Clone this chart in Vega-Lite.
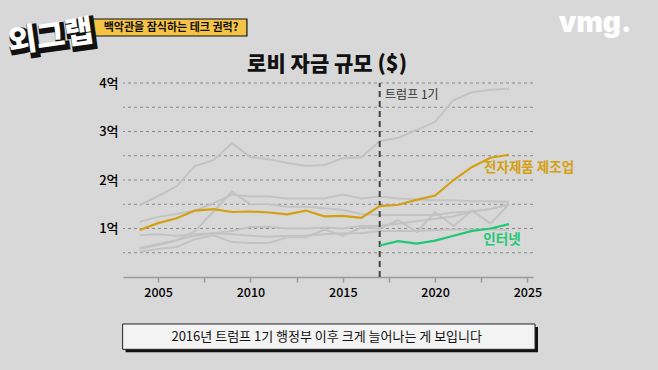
{
  "$schema": "https://vega.github.io/schema/vega-lite/v6.json",
  "width": 410,
  "height": 194,
  "autosize": {"type": "none"},
  "padding": {"left": 123, "top": 83, "right": 125, "bottom": 93},
  "background": "#d8d8d8",
  "config": {"view": {"stroke": null}, "font": "Noto Sans CJK KR"},
  "datasets": {
    "grid": [{"value": 0.5}, {"value": 1}, {"value": 1.5}, {"value": 2}, {"value": 2.5}, {"value": 3}, {"value": 3.5}, {"value": 4}],
    "gray": [
      {"s":"g1","year":2004,"value":1.48},{"s":"g1","year":2005,"value":1.67},{"s":"g1","year":2006,"value":1.87},{"s":"g1","year":2007,"value":2.29},{"s":"g1","year":2008,"value":2.41},{"s":"g1","year":2009,"value":2.76},{"s":"g1","year":2010,"value":2.47},{"s":"g1","year":2011,"value":2.43},{"s":"g1","year":2012,"value":2.35},{"s":"g1","year":2013,"value":2.29},{"s":"g1","year":2014,"value":2.31},{"s":"g1","year":2015,"value":2.45},{"s":"g1","year":2016,"value":2.47},{"s":"g1","year":2017,"value":2.8},{"s":"g1","year":2018,"value":2.87},{"s":"g1","year":2019,"value":3.03},{"s":"g1","year":2020,"value":3.2},{"s":"g1","year":2021,"value":3.65},{"s":"g1","year":2022,"value":3.81},{"s":"g1","year":2023,"value":3.86},{"s":"g1","year":2024,"value":3.88},
      {"s":"g2","year":2004,"value":1.14},{"s":"g2","year":2005,"value":1.24},{"s":"g2","year":2006,"value":1.3},{"s":"g2","year":2007,"value":1.37},{"s":"g2","year":2008,"value":1.52},{"s":"g2","year":2009,"value":1.7},{"s":"g2","year":2010,"value":1.66},{"s":"g2","year":2011,"value":1.66},{"s":"g2","year":2012,"value":1.62},{"s":"g2","year":2013,"value":1.62},{"s":"g2","year":2014,"value":1.62},{"s":"g2","year":2015,"value":1.7},{"s":"g2","year":2016,"value":1.62},{"s":"g2","year":2017,"value":1.66},{"s":"g2","year":2018,"value":1.62},{"s":"g2","year":2019,"value":1.6},{"s":"g2","year":2020,"value":1.58},{"s":"g2","year":2021,"value":1.58},{"s":"g2","year":2022,"value":1.56},{"s":"g2","year":2023,"value":1.56},{"s":"g2","year":2024,"value":1.55},
      {"s":"g3","year":2004,"value":0.58},{"s":"g3","year":2005,"value":0.66},{"s":"g3","year":2006,"value":0.75},{"s":"g3","year":2007,"value":0.95},{"s":"g3","year":2008,"value":1.35},{"s":"g3","year":2009,"value":1.76},{"s":"g3","year":2010,"value":1.5},{"s":"g3","year":2011,"value":1.5},{"s":"g3","year":2012,"value":1.45},{"s":"g3","year":2013,"value":1.45},{"s":"g3","year":2014,"value":1.42},{"s":"g3","year":2015,"value":1.38},{"s":"g3","year":2016,"value":1.3},{"s":"g3","year":2017,"value":1.28},{"s":"g3","year":2018,"value":1.28},{"s":"g3","year":2019,"value":1.28},{"s":"g3","year":2020,"value":1.28},{"s":"g3","year":2021,"value":1.33},{"s":"g3","year":2022,"value":1.35},{"s":"g3","year":2023,"value":1.4},{"s":"g3","year":2024,"value":1.5},
      {"s":"g4","year":2004,"value":0.86},{"s":"g4","year":2005,"value":0.88},{"s":"g4","year":2006,"value":0.85},{"s":"g4","year":2007,"value":0.88},{"s":"g4","year":2008,"value":0.9},{"s":"g4","year":2009,"value":0.88},{"s":"g4","year":2010,"value":0.85},{"s":"g4","year":2011,"value":0.83},{"s":"g4","year":2012,"value":0.85},{"s":"g4","year":2013,"value":0.85},{"s":"g4","year":2014,"value":0.88},{"s":"g4","year":2015,"value":0.9},{"s":"g4","year":2016,"value":0.9},{"s":"g4","year":2017,"value":0.95},{"s":"g4","year":2018,"value":0.95},{"s":"g4","year":2019,"value":0.95},{"s":"g4","year":2020,"value":0.97},{"s":"g4","year":2021,"value":0.98},{"s":"g4","year":2022,"value":0.98},{"s":"g4","year":2023,"value":0.98},{"s":"g4","year":2024,"value":0.97},
      {"s":"g5","year":2004,"value":0.6},{"s":"g5","year":2005,"value":0.68},{"s":"g5","year":2006,"value":0.76},{"s":"g5","year":2007,"value":0.85},{"s":"g5","year":2008,"value":0.9},{"s":"g5","year":2009,"value":0.95},{"s":"g5","year":2010,"value":1.03},{"s":"g5","year":2011,"value":1.03},{"s":"g5","year":2012,"value":1.0},{"s":"g5","year":2013,"value":1.0},{"s":"g5","year":2014,"value":1.02},{"s":"g5","year":2015,"value":1.0},{"s":"g5","year":2016,"value":1.05},{"s":"g5","year":2017,"value":1.05},{"s":"g5","year":2018,"value":1.1},{"s":"g5","year":2019,"value":1.15},{"s":"g5","year":2020,"value":1.2},{"s":"g5","year":2021,"value":1.25},{"s":"g5","year":2022,"value":1.35},{"s":"g5","year":2023,"value":1.4},{"s":"g5","year":2024,"value":1.5},
      {"s":"g6","year":2004,"value":0.52},{"s":"g6","year":2005,"value":0.58},{"s":"g6","year":2006,"value":0.62},{"s":"g6","year":2007,"value":0.78},{"s":"g6","year":2008,"value":0.86},{"s":"g6","year":2009,"value":0.72},{"s":"g6","year":2010,"value":0.7},{"s":"g6","year":2011,"value":0.7},{"s":"g6","year":2012,"value":0.82},{"s":"g6","year":2013,"value":0.82},{"s":"g6","year":2014,"value":0.98},{"s":"g6","year":2015,"value":0.85},{"s":"g6","year":2016,"value":1.02},{"s":"g6","year":2017,"value":1.0},{"s":"g6","year":2018,"value":1.17},{"s":"g6","year":2019,"value":0.93},{"s":"g6","year":2020,"value":1.34},{"s":"g6","year":2021,"value":1.05},{"s":"g6","year":2022,"value":1.37},{"s":"g6","year":2023,"value":1.1},{"s":"g6","year":2024,"value":1.5}
    ],
    "gold": [
      {"year":2004,"value":0.97},{"year":2005,"value":1.11},{"year":2006,"value":1.21},{"year":2007,"value":1.37},{"year":2008,"value":1.4},{"year":2009,"value":1.34},{"year":2010,"value":1.35},{"year":2011,"value":1.33},{"year":2012,"value":1.29},{"year":2013,"value":1.37},{"year":2014,"value":1.25},{"year":2015,"value":1.26},{"year":2016,"value":1.22},{"year":2017,"value":1.46},{"year":2018,"value":1.49},{"year":2019,"value":1.59},{"year":2020,"value":1.68},{"year":2021,"value":2.0},{"year":2022,"value":2.27},{"year":2023,"value":2.46},{"year":2024,"value":2.52}
    ],
    "green": [
      {"year":2017,"value":0.65},{"year":2018,"value":0.74},{"year":2019,"value":0.69},{"year":2020,"value":0.75},{"year":2021,"value":0.85},{"year":2022,"value":0.95},{"year":2023,"value":1.0},{"year":2024,"value":1.09}
    ]
  },
  "layer": [
    {
      "data": {"name": "grid"},
      "mark": {"type": "rule", "strokeDash": [3, 3], "strokeWidth": 1, "color": "#8a8a8a"},
      "encoding": {
        "y": {"field": "value", "type": "quantitative", "scale": {"domain": [0, 4], "nice": false},
          "axis": {"values": [1, 2, 3, 4], "labelExpr": "datum.value + '억'", "grid": false, "domain": false, "ticks": false, "labelPadding": 5, "labelFontSize": 13, "labelFontWeight": 500, "labelColor": "#000", "title": null}}
      }
    },
    {
      "data": {"name": "gray"},
      "mark": {"type": "line", "strokeWidth": 2, "color": "#c3c3c3"},
      "encoding": {
        "x": {"field": "year", "type": "quantitative", "scale": {"domain": [2003.1, 2025.3], "nice": false, "zero": false},
          "axis": {"values": [2005, 2007.5, 2010, 2012.5, 2015, 2017.5, 2020, 2022.5, 2025], "format": "d", "labelExpr": "datum.value % 5 == 0 ? datum.label : ''", "grid": false, "domainColor": "#9a9a9a", "domainWidth": 1.5, "tickColor": "#9a9a9a", "tickSize": 5, "tickWidth": 1.5, "labelFontSize": 12.5, "labelFontWeight": 500, "labelColor": "#000", "labelPadding": 4, "title": null}},
        "y": {"field": "value", "type": "quantitative"},
        "detail": {"field": "s"}
      }
    },
    {
      "data": {"values": [{"year": 2017, "value": 0, "value2": 4}]},
      "mark": {"type": "rule", "strokeDash": [6, 4], "strokeWidth": 2, "color": "#444"},
      "encoding": {
        "x": {"field": "year", "type": "quantitative"},
        "y": {"field": "value", "type": "quantitative"},
        "y2": {"field": "value2"}
      }
    },
    {
      "data": {"name": "gold"},
      "mark": {"type": "line", "strokeWidth": 2.2, "color": "#d4a012"},
      "encoding": {
        "x": {"field": "year", "type": "quantitative"},
        "y": {"field": "value", "type": "quantitative"}
      }
    },
    {
      "data": {"name": "green"},
      "mark": {"type": "line", "strokeWidth": 2.2, "color": "#1fc874"},
      "encoding": {
        "x": {"field": "year", "type": "quantitative"},
        "y": {"field": "value", "type": "quantitative"}
      }
    },
    {
      "data": {"values": [{"year": 2017.29, "value": 3.753, "label": "트럼프 1기"}]},
      "mark": {"type": "text", "align": "left", "baseline": "middle", "fontSize": 12, "color": "#333"},
      "encoding": {"x": {"field": "year", "type": "quantitative"}, "y": {"field": "value", "type": "quantitative"}, "text": {"field": "label"}}
    },
    {
      "data": {"values": [{"year": 2022.65, "value": 2.24, "label": "전자제품 제조업"}]},
      "mark": {"type": "text", "align": "left", "baseline": "middle", "fontSize": 13.5, "fontWeight": "bold", "color": "#d4a012"},
      "encoding": {"x": {"field": "year", "type": "quantitative"}, "y": {"field": "value", "type": "quantitative"}, "text": {"field": "label"}}
    },
    {
      "data": {"values": [{"year": 2022.61, "value": 0.763, "label": "인터넷"}]},
      "mark": {"type": "text", "align": "left", "baseline": "middle", "fontSize": 13.5, "fontWeight": "bold", "color": "#1fc874"},
      "encoding": {"x": {"field": "year", "type": "quantitative"}, "y": {"field": "value", "type": "quantitative"}, "text": {"field": "label"}}
    },
    {
      "data": {"values": [{"year": 2014.15, "value": 4.37, "label": "로비 자금 규모 ($)"}]},
      "mark": {"type": "text", "align": "center", "baseline": "middle", "fontSize": 21, "fontWeight": 900, "color": "#111"},
      "encoding": {"x": {"field": "year", "type": "quantitative"}, "y": {"field": "value", "type": "quantitative"}, "text": {"field": "label"}}
    },
    {
      "data": {"values": [{"year": 2003.24, "year2": 2025.57, "value": -1.03, "value2": -1.553}]},
      "mark": {"type": "rect", "color": "#111"},
      "encoding": {"x": {"field": "year", "type": "quantitative"}, "x2": {"field": "year2"}, "y": {"field": "value", "type": "quantitative"}, "y2": {"field": "value2"}}
    },
    {
      "data": {"values": [{"year": 2003.08, "year2": 2025.41, "value": -0.969, "value2": -1.491}]},
      "mark": {"type": "rect", "fill": "#f3f3f3", "stroke": "#222", "strokeWidth": 1},
      "encoding": {"x": {"field": "year", "type": "quantitative"}, "x2": {"field": "year2"}, "y": {"field": "value", "type": "quantitative"}, "y2": {"field": "value2"}}
    },
    {
      "data": {"values": [{"year": 2014.13, "value": -1.231, "label": "2016년 트럼프 1기 행정부 이후 크게 늘어나는 게 보입니다"}]},
      "mark": {"type": "text", "align": "center", "baseline": "middle", "fontSize": 13, "color": "#111"},
      "encoding": {"x": {"field": "year", "type": "quantitative"}, "y": {"field": "value", "type": "quantitative"}, "text": {"field": "label"}}
    },
    {
      "data": {"values": [{"year": 2001.15, "year2": 2009.81, "value": 5.32, "value2": 4.969}]},
      "mark": {"type": "rect", "fill": "#f6c445", "stroke": "#111", "strokeWidth": 1.2},
      "encoding": {"x": {"field": "year", "type": "quantitative"}, "x2": {"field": "year2"}, "y": {"field": "value", "type": "quantitative"}, "y2": {"field": "value2"}}
    },
    {
      "data": {"values": [{"year": 2005.7, "value": 5.144, "label": "백악관을 잠식하는 테크 권력?"}]},
      "mark": {"type": "text", "align": "center", "baseline": "middle", "fontSize": 11, "fontWeight": "bold", "color": "#111"},
      "encoding": {"x": {"field": "year", "type": "quantitative"}, "y": {"field": "value", "type": "quantitative"}, "text": {"field": "label"}}
    },
    {
      "data": {"values": [{"year": 1999.2, "value": 4.93, "label": "외그랩"}]},
      "mark": {"type": "text", "align": "center", "baseline": "middle", "fontSize": 31, "fontWeight": 900, "color": "#111", "stroke": "#111", "strokeWidth": 5, "angle": 352, "dx": 2, "dy": 3},
      "encoding": {"x": {"field": "year", "type": "quantitative"}, "y": {"field": "value", "type": "quantitative"}, "text": {"field": "label"}}
    },
    {
      "data": {"values": [{"year": 1999.2, "value": 4.93, "label": "외그랩"}]},
      "mark": {"type": "text", "align": "center", "baseline": "middle", "fontSize": 31, "fontWeight": 900, "color": "#ffffff", "angle": 352},
      "encoding": {"x": {"field": "year", "type": "quantitative"}, "y": {"field": "value", "type": "quantitative"}, "text": {"field": "label"}}
    },
    {
      "data": {"values": [{"year": 2028.66, "value": 5.216, "label": "vmg."}]},
      "mark": {"type": "text", "align": "center", "baseline": "middle", "fontSize": 28, "fontWeight": 900, "font": "Inter", "color": "#ffffff"},
      "encoding": {"x": {"field": "year", "type": "quantitative"}, "y": {"field": "value", "type": "quantitative"}, "text": {"field": "label"}}
    }
  ]
}
